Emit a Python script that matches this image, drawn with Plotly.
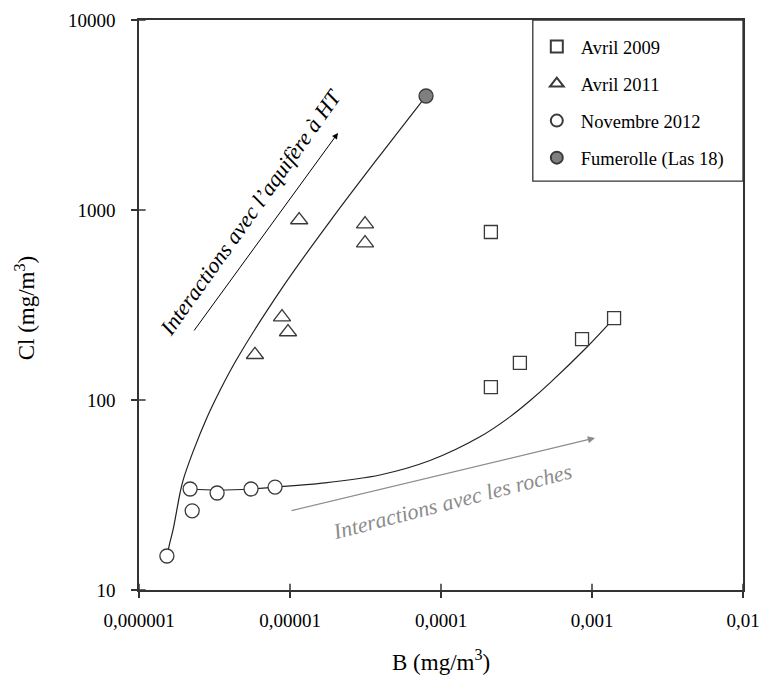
import plotly.graph_objects as go

# ---------------- data ----------------
avril2009_B = [2.14e-4, 2.14e-4, 3.33e-4, 8.59e-4, 1.40e-3]
avril2009_Cl = [766, 117, 157, 209, 270]

avril2011_B = [1.15e-5, 3.14e-5, 3.14e-5, 8.85e-6, 9.7e-6, 5.86e-6]
avril2011_Cl = [886, 843, 670, 273, 228, 173]

nov2012_B = [1.53e-6, 2.18e-6, 2.25e-6, 3.29e-6, 5.52e-6, 7.96e-6]
nov2012_Cl = [15.1, 34.0, 26.1, 32.4, 34.0, 34.8]

fumerolle_B = [7.96e-5]
fumerolle_Cl = [3980]

# mixing curves
curve_ht_B = [1.53e-6, 1.60e-6, 1.68e-6, 1.87e-6, 1.96e-6, 2.28e-6, 2.82e-6, 3.43e-6,
              4.46e-6, 8.99e-6, 1.84e-5, 3.77e-5, 7.96e-5]
curve_ht_Cl = [15.1, 17.7, 20.7, 32.4, 37.9, 53.5, 81, 112, 165, 395, 872, 1850, 3980]

curve_roche_B = [2.18e-6, 3.29e-6, 5.52e-6, 7.96e-6, 1.58e-5, 3.94e-5, 8.45e-5,
                 1.81e-4, 2.86e-4, 3.88e-4, 5.27e-4, 9.27e-4, 1.32e-3, 1.40e-3]
curve_roche_Cl = [34.0, 33.6, 34.0, 34.8, 36.4, 40.3, 48.0, 64.0, 81.5, 99, 123, 190, 256, 270]

x_tickvals = [1e-6, 1e-5, 1e-4, 1e-3, 1e-2]
x_ticktext = ["0,000001", "0,00001", "0,0001", "0,001", "0,01"]
y_tickvals = [10, 100, 1000, 10000]
y_ticktext = ["10", "100", "1000", "10000"]

# ---------------- figure ----------------
FONT = "Liberation Serif, Times New Roman, serif"
EDGE = "#3a3a3a"

fig = go.Figure()

fig.add_trace(go.Scatter(x=curve_ht_B, y=curve_ht_Cl, mode="lines",
                         line=dict(color="#222", width=1.2, shape="spline", smoothing=1.0),
                         showlegend=False, hoverinfo="skip"))
fig.add_trace(go.Scatter(x=curve_roche_B, y=curve_roche_Cl, mode="lines",
                         line=dict(color="#222", width=1.2, shape="spline", smoothing=1.0),
                         showlegend=False, hoverinfo="skip"))

fig.add_trace(go.Scatter(x=avril2009_B, y=avril2009_Cl, mode="markers", name="Avril 2009",
                         legendgroup="a",
                         marker=dict(symbol="square", size=13, color="white",
                                     line=dict(color=EDGE, width=1.3))))
fig.add_trace(go.Scatter(x=avril2011_B, y=avril2011_Cl, mode="markers", name="Avril 2011",
                         legendgroup="b",
                         marker=dict(symbol="triangle-up", size=15, color="white",
                                     line=dict(color=EDGE, width=1.3))))
fig.add_trace(go.Scatter(x=nov2012_B, y=nov2012_Cl, mode="markers", name="Novembre 2012",
                         legendgroup="c",
                         marker=dict(symbol="circle", size=14, color="white",
                                     line=dict(color=EDGE, width=1.3))))
fig.add_trace(go.Scatter(x=fumerolle_B, y=fumerolle_Cl, mode="markers", name="Fumerolle (Las 18)",
                         legendgroup="d",
                         marker=dict(symbol="circle", size=14, color="#7f7f7f",
                                     line=dict(color=EDGE, width=1.3))))

axis_common = dict(type="log", showgrid=False, zeroline=False, showline=True,
                   linecolor="#333", linewidth=1.6, mirror=True, automargin=False,
                   ticks="outside", ticklen=6, tickwidth=1.5, tickcolor="#333",
                   ticklabeloverflow="allow",
                   tickfont=dict(family=FONT, size=19, color="black"))

fig.update_xaxes(range=[-6, -2], tickvals=x_tickvals, ticktext=x_ticktext,
                 ticklabelstandoff=6, **axis_common)
fig.update_yaxes(range=[1, 4], tickvals=y_tickvals, ticktext=y_ticktext,
                 ticklabelstandoff=12, **axis_common)

# inner half of the crossing tick marks
shapes = []
for tv in x_tickvals:
    shapes.append(dict(type="line", xref="x", yref="paper", x0=tv, x1=tv, y0=0, y1=0.011,
                       line=dict(color="#333", width=1.5)))
for tv in y_tickvals:
    shapes.append(dict(type="line", xref="paper", yref="y", x0=0, x1=0.011, y0=tv, y1=tv,
                       line=dict(color="#333", width=1.5)))
# legend frame
shapes.append(dict(type="rect", xref="paper", yref="paper", x0=0.652, x1=1.0, y0=0.7175, y1=1.0,
                   line=dict(color="#333", width=1.3), fillcolor="rgba(0,0,0,0)"))

annotations = [
    dict(xref="paper", yref="paper", x=0.5, y=-0.123, xanchor="center", yanchor="middle",
         text="B (mg/m<sup>3</sup>)", showarrow=False,
         font=dict(family=FONT, size=23, color="black")),
    dict(xref="paper", yref="paper", x=-0.188, y=0.495, xanchor="center", yanchor="middle",
         text="Cl (mg/m<sup>3</sup>)", textangle=-90, showarrow=False,
         font=dict(family=FONT, size=23, color="black")),
    # arrows
    dict(xref="paper", yref="paper", x=0.3295, y=0.8018, ax=-145, ay=199,
         axref="pixel", ayref="pixel", text="", showarrow=True,
         arrowhead=2, arrowsize=1.2, arrowwidth=1, arrowcolor="black"),
    dict(xref="paper", yref="paper", x=0.755, y=0.2667, ax=-305, ay=73,
         axref="pixel", ayref="pixel", text="", showarrow=True,
         arrowhead=2, arrowsize=1.2, arrowwidth=1.2, arrowcolor="#8c8c8c"),
    # texts
    dict(xref="paper", yref="paper", x=0.184, y=0.663, xanchor="center", yanchor="middle",
         text="<i>Interactions avec l’aquifère à HT</i>", textangle=-54.5, showarrow=False,
         font=dict(family=FONT, size=22, color="black")),
    dict(xref="paper", yref="paper", x=0.518, y=0.155, xanchor="center", yanchor="middle",
         text="<i>Interactions avec les roches</i>", textangle=-14.5, showarrow=False,
         font=dict(family=FONT, size=22, color="#8c8c8c")),
]

fig.update_layout(
    width=759, height=675,
    margin=dict(l=139, r=16, t=20, b=85),
    paper_bgcolor="white", plot_bgcolor="white",
    shapes=shapes, annotations=annotations,
    legend=dict(x=0.652, y=0.986, xanchor="left", yanchor="top",
                bgcolor="rgba(0,0,0,0)", borderwidth=0,
                font=dict(family=FONT, size=18.5, color="black"),
                tracegroupgap=10, traceorder="grouped",
                itemsizing="constant", itemwidth=38),
    showlegend=True,
)

fig.write_html("out.html", config={"displayModeBar": False},
               post_script="document.body.style.margin='0';document.body.style.overflow='hidden';")
